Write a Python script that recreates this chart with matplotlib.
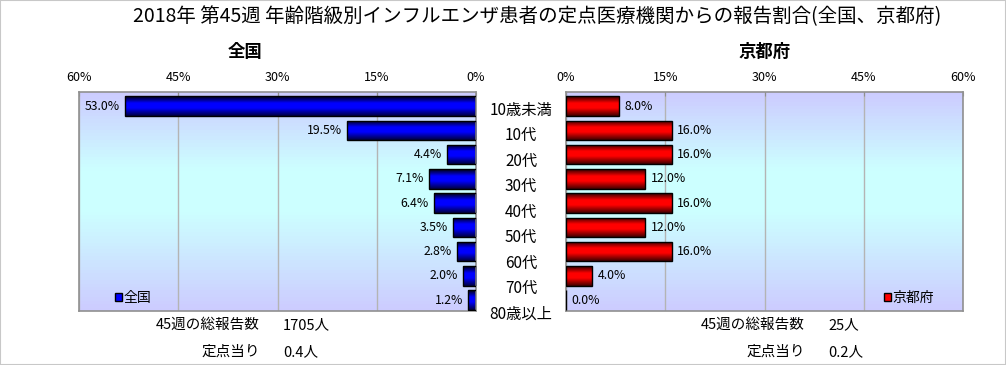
import numpy as np
import matplotlib
matplotlib.use('Agg')
import matplotlib.pyplot as plt
from matplotlib.colors import LinearSegmentedColormap
from matplotlib.patches import Patch, Rectangle

plt.rcParams['font.family'] = ['Noto Sans CJK JP', 'DejaVu Sans']

# data
age_groups = ['10歳未満', '10代', '20代', '30代', '40代', '50代', '60代', '70代', '80歳以上']
zenkoku = [53.0, 19.5, 4.4, 7.1, 6.4, 3.5, 2.8, 2.0, 1.2]
kyoto = [8.0, 16.0, 16.0, 12.0, 16.0, 12.0, 16.0, 4.0, 0.0]
ticks = [0, 15, 30, 45, 60]
title = '2018年 第45週 年齢階級別インフルエンザ患者の定点医療機関からの報告割合(全国、京都府)'
zen_total, zen_per = '1705人', '0.4人'
kyo_total, kyo_per = '25人', '0.2人'

W, H = 1006, 365
fig = plt.figure(figsize=(W / 100, H / 100), dpi=100)
fig.add_artist(Rectangle((0, 0), 1, 1, transform=fig.transFigure, fill=False,
                         edgecolor='#c8c8c8', linewidth=1.5))


def px(x0, y0, w, h):
    return [x0 / W, (H - y0 - h) / H, w / W, h / H]


bg_cmap = LinearSegmentedColormap.from_list(
    'bg', [(0, '#ccccff'), (0.35, '#ccffff'), (0.55, '#ccffff'), (1, '#ccccff')])
blue_cmap = LinearSegmentedColormap.from_list(
    'b', [(0, '#000010'), (0.35, '#0000ff'), (0.6, '#0000ff'), (1, '#000040')])
red_cmap = LinearSegmentedColormap.from_list(
    'r', [(0, '#300000'), (0.35, '#ff0000'), (0.6, '#ff0000'), (1, '#400000')])
grad = np.linspace(0, 1, 64).reshape(-1, 1)


def panel(ax, values, cmap, left_side, legend_label, legend_color):
    y = np.arange(len(values))
    ax.imshow(grad, cmap=bg_cmap, extent=[0, 1, 0, 1], transform=ax.transAxes,
              aspect='auto', origin='upper', zorder=0)
    bars = ax.barh(y, values, height=0.8, color='none', edgecolor='black',
                   linewidth=1, zorder=3)
    for b in bars:
        if b.get_width() <= 0:
            continue
        im = ax.imshow(grad, cmap=cmap, aspect='auto', origin='upper', zorder=2,
                       extent=[b.get_x(), b.get_x() + b.get_width(),
                               b.get_y() + b.get_height(), b.get_y()])
        im.set_clip_path(b)
    for yi, v in zip(y, values):
        if left_side:
            ax.text(v + 0.8, yi, f'{v:.1f}%', ha='right', va='center', fontsize=8.8)
        else:
            ax.text(v + 0.8, yi, f'{v:.1f}%', ha='left', va='center', fontsize=8.8)
    if left_side:
        ax.set_xlim(60, 0)
    else:
        ax.set_xlim(0, 60)
    ax.set_ylim(len(values) - 1 + 0.45, -0.58)
    ax.set_yticks([])
    ax.set_xticks(ticks)
    ax.set_xticklabels([f'{t}%' for t in ticks], fontsize=9)
    ax.xaxis.tick_top()
    ax.tick_params(axis='x', length=3, direction='in', pad=6, color='#909090')
    ax.grid(axis='x', color='#b4b4b4', linewidth=1, zorder=1)
    ax.set_axisbelow(True)
    for s in ax.spines.values():
        s.set_color('#909090')
        s.set_linewidth(1.2)
    handle = Patch(facecolor=legend_color, edgecolor='black', linewidth=1)
    anchor = (0.09, 0.06) if left_side else (0.80, 0.06)
    ax.legend([handle], [legend_label], loc='center left', bbox_to_anchor=anchor,
              frameon=False, fontsize=10, handlelength=0.5, handleheight=0.5,
              handletextpad=0.15, borderpad=0, borderaxespad=0)


ax1 = fig.add_axes(px(79, 92, 397, 219))
panel(ax1, zenkoku, blue_cmap, True, '全国', '#0000ff')
ax2 = fig.add_axes(px(566, 92, 397, 219))
panel(ax2, kyoto, red_cmap, False, '京都府', '#ff0000')

fig.text(537 / W, 1 - 17 / H, title, ha='center', va='center', fontsize=14)
fig.text(245 / W, 1 - 52 / H, '全国', ha='center', va='center', fontsize=12.5,
         fontweight='bold')
fig.text(765 / W, 1 - 52 / H, '京都府', ha='center', va='center', fontsize=12.5,
         fontweight='bold')

for i, lab in enumerate(age_groups):
    fig.text(521 / W, 1 - (110 + 25.5 * i) / H, lab, ha='center', va='center',
             fontsize=11)

for xr, xl, tot, per in [(260, 283, zen_total, zen_per), (805, 828, kyo_total, kyo_per)]:
    fig.text(xr / W, 1 - 325 / H, '45週の総報告数', ha='right', va='center', fontsize=10.5)
    fig.text(xl / W, 1 - 325 / H, tot, ha='left', va='center', fontsize=10.5)
    fig.text(xr / W, 1 - 352 / H, '定点当り', ha='right', va='center', fontsize=10.5)
    fig.text(xl / W, 1 - 352 / H, per, ha='left', va='center', fontsize=10.5)

fig.savefig('out.png', dpi=100)
